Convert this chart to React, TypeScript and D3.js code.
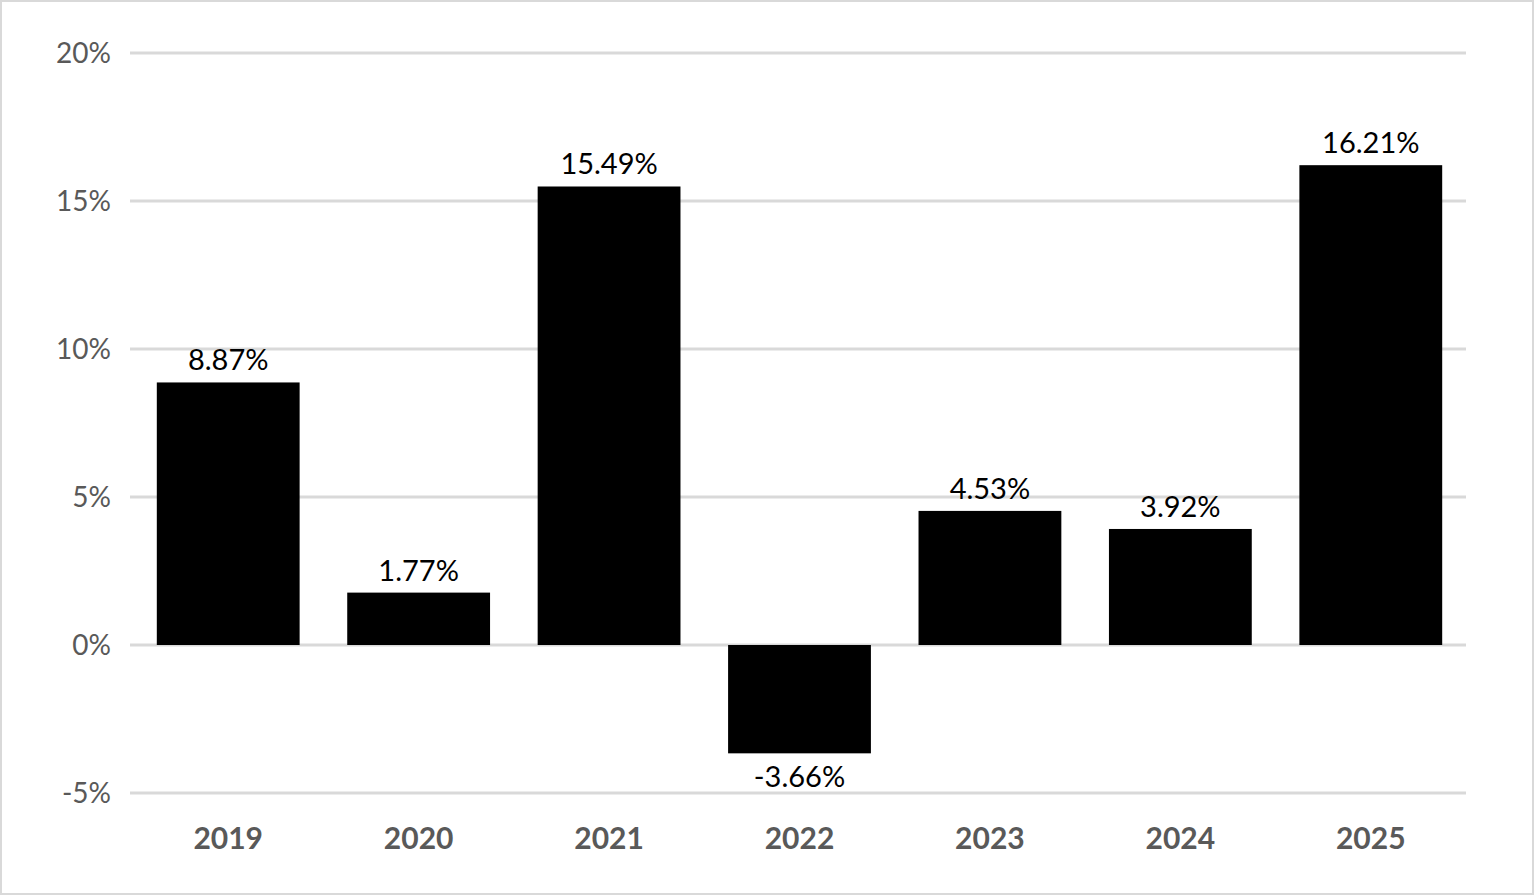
import React, { useEffect, useRef } from 'react'
import * as d3 from 'd3'

const years = ['2019', '2020', '2021', '2022', '2023', '2024', '2025']
const returns = [8.87, 1.77, 15.49, -3.66, 4.53, 3.92, 16.21]
const yTicks = [-5, 0, 5, 10, 15, 20]

const W = 1534, H = 895

export default function App() {
    const ref = useRef<SVGSVGElement>(null)

    useEffect(() => {
        const svg = d3.select(ref.current)
        svg.selectAll('*').remove()
        const font = 'Lato, "Open Sans", sans-serif'

        svg.append('rect').attr('x', 1).attr('y', 1).attr('width', W - 2).attr('height', H - 2)
            .attr('fill', '#fff').attr('stroke', '#d9d9d9').attr('stroke-width', 2)

        const x = d3.scaleBand().domain(years).range([133, 1466]).paddingInner(0.25).paddingOuter(0.125)
        const y = d3.scaleLinear().domain([-5, 20]).range([793, 53])

        svg.append('g').selectAll('line').data(yTicks).enter().append('line')
            .attr('x1', 130).attr('x2', 1466)
            .attr('y1', d => y(d)).attr('y2', d => y(d))
            .attr('stroke', '#d9d9d9').attr('stroke-width', 3)

        svg.append('g').selectAll('text').data(yTicks).enter().append('text')
            .attr('x', 111).attr('y', d => y(d)).attr('dy', '0.35em')
            .attr('text-anchor', 'end').attr('font-family', font).attr('font-size', 28)
            .attr('fill', '#595959').text(d => d + '%')

        svg.append('g').selectAll('rect').data(returns).enter().append('rect')
            .attr('x', (_, i) => x(years[i])!)
            .attr('width', x.bandwidth())
            .attr('y', d => y(Math.max(0, d)))
            .attr('height', d => Math.abs(y(d) - y(0)))
            .attr('fill', '#000')

        svg.append('g').selectAll('text').data(returns).enter().append('text')
            .attr('x', (_, i) => x(years[i])! + x.bandwidth() / 2)
            .attr('y', d => d >= 0 ? y(d) - 12 : y(d) + 34)
            .attr('text-anchor', 'middle').attr('font-family', font).attr('font-size', 29)
            .attr('fill', '#000').text(d => d.toFixed(2) + '%')

        svg.append('g').selectAll('text').data(years).enter().append('text')
            .attr('x', d => x(d)! + x.bandwidth() / 2).attr('y', 849)
            .attr('text-anchor', 'middle').attr('font-family', font).attr('font-size', 30)
            .attr('font-weight', 'bold').attr('fill', '#595959').text(d => d)
    }, [])

    return <svg ref={ref} width={W} height={H} style={{ position: 'absolute', left: 0, top: 0 }} />
}
